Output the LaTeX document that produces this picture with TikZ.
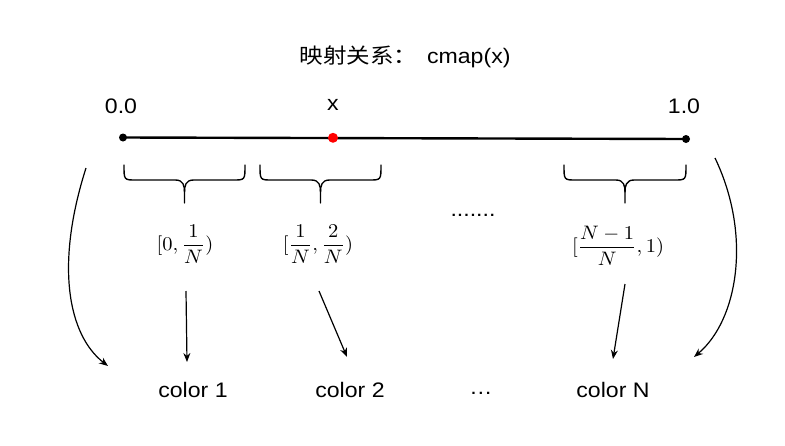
\documentclass[tikz,border=0pt]{standalone}
\usepackage{fontspec}
\usepackage{graphicx}
\setmainfont{Liberation Sans}[FakeStretch=1.1]
\newfontfamily\cjk{Noto Sans CJK SC}[FakeStretch=1.12]
\usetikzlibrary{arrows.meta}
\begin{document}
\begin{tikzpicture}[x=1pt,y=-1pt,
  lbl/.style={inner sep=0pt,font=\fontsize{21}{24}\selectfont},
  mathlbl/.style={inner sep=0pt},
  bracepath/.style={line width=1.4pt,line cap=round},
  arr/.style={line width=1.2pt,-{Stealth[length=9pt,width=7pt]}}]
\useasboundingbox (0,0) rectangle (785,445);
% title
\node[lbl,font=\fontsize{21}{24}\selectfont] (title) at (405,57) {{\cjk 映射关系：}\hspace{10pt}cmap(x)};
% axis
\coordinate (p0) at (123,137.5);
\coordinate (p1) at (686,139);
\draw[line width=2.4pt] (p0) -- (p1);
\fill (p0) circle (4pt);
\fill (p1) circle (4pt);
\node[circle,fill=red,inner sep=0pt,minimum size=10pt] (px) at (333,137.8) {};
\node[lbl] (l00) at (121,106) {0.0};
\node[lbl] (lx) at (333,105) {x};
\node[lbl] (l10) at (684,106) {1.0};
% braces
\foreach \a/\b in {124/245, 260/381, 564/686}{
  \pgfmathsetmacro{\m}{(\a+\b)/2}
  \draw[bracepath] (\a,165) .. controls (\a,180) .. (\a+12,180) -- (\m-9,180)
     .. controls (\m-1,180) and (\m,186) .. (\m,192) -- (\m,203);
  \draw[bracepath] (\b,165) .. controls (\b,180) .. (\b-12,180) -- (\m+9,180)
     .. controls (\m+1,180) and (\m,186) .. (\m,192);
}
% interval labels
\node[mathlbl] (i1) at (185,244) {\scalebox{2.05}[1.95]{$\displaystyle [0,\frac{1}{N})$}};
\node[mathlbl] (i2) at (318,244) {\scalebox{2.05}[1.95]{$\displaystyle [\frac{1}{N},\frac{2}{N})$}};
\node[mathlbl] (i3) at (618,246) {\scalebox{2.05}[1.95]{$\displaystyle [\frac{N-1}{N},1)$}};
\node[lbl] (dots) at (473,215) {.......};
% color labels
\node[lbl] (c1) at (193,390) {color 1};
\node[lbl] (c2) at (350,390) {color 2};
\node[lbl] (cd) at (481,393) {…};
\node[lbl] (cN) at (613,390) {color N};
% arrows
\coordinate (a1s) at (186,291);
\coordinate (a1e) at (187,362);
\coordinate (a2s) at (319,291);
\coordinate (a2e) at (347,357);
\coordinate (a3s) at (625,284);
\coordinate (a3e) at (613,359);
\coordinate (aLs) at (86,168);
\coordinate (aLe) at (108,366);
\coordinate (aRs) at (715,158);
\coordinate (aRe) at (694,357);
\draw[arr] (a1s) -- (a1e);
\draw[arr] (a2s) -- (a2e);
\draw[arr] (a3s) -- (a3e);
\draw[arr] (aLs) .. controls (55,265) and (68,335) .. (aLe);
\draw[arr] (aRs) .. controls (752,235) and (738,320) .. (aRe);
\end{tikzpicture}
\end{document}
